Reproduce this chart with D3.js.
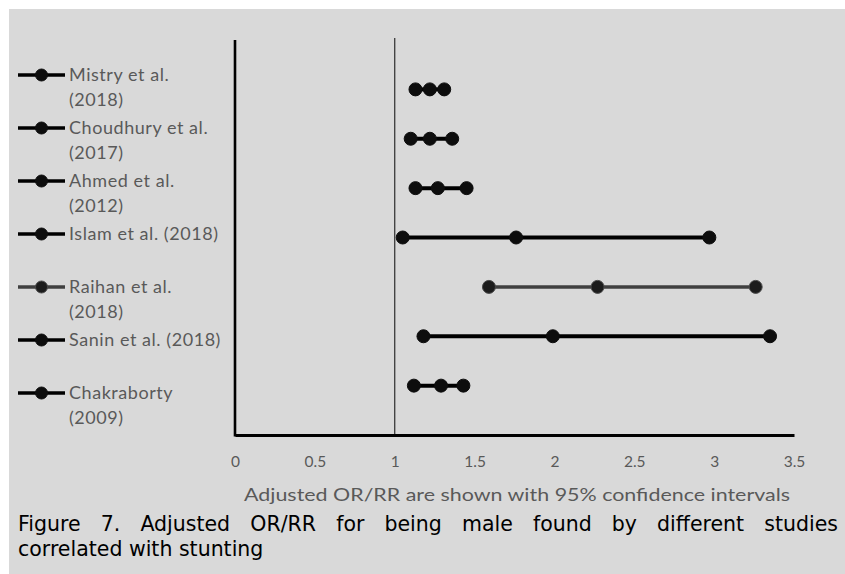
<!DOCTYPE html>
<html>
<head>
<meta charset="utf-8">
<script src="https://cdn.jsdelivr.net/npm/d3@7"></script>
<style>
  body { margin: 0; background: #ffffff; }
  svg { display: block; }
</style>
</head>
<body>
<div id="chart"></div>
<script>
// studies, top to bottom (label lines as shown in the legend)
var studies = [
    ["Mistry et al.", "(2018)"],
    ["Choudhury et al.", "(2017)"],
    ["Ahmed et al.", "(2012)"],
    ["Islam et al. (2018)"],
    ["Raihan et al.", "(2018)"],
    ["Sanin et al. (2018)"],
    ["Chakraborty", "(2009)"]
];
// row position of each study on the hidden 0-8 y scale
var rowValues = [7, 6, 5, 4, 3, 2, 1];
// adjusted OR/RR with 95% CI
var lowerCI = [1.13, 1.10, 1.13, 1.05, 1.59, 1.18, 1.12];
var estimate = [1.22, 1.22, 1.27, 1.76, 2.27, 1.99, 1.29];
var upperCI = [1.31, 1.36, 1.45, 2.97, 3.26, 3.35, 1.43];
var seriesColors = ["#000000", "#000000", "#000000", "#000000", "#404040", "#000000", "#000000"];

var xTicks = [0, 0.5, 1, 1.5, 2, 2.5, 3, 3.5];
var referenceValue = 1;
var axisTitle = "Adjusted OR/RR are shown with 95% confidence intervals";
var captionLines = [
    "Figure 7. Adjusted OR/RR for being male found by different studies",
    "correlated with stunting"
];

var width = 845, height = 574;
var plot = { left: 235, right: 794, top: 40, bottom: 435 };

var svg = d3.select("#chart").append("svg")
    .attr("width", width)
    .attr("height", height);

// grey panel
svg.append("rect")
    .attr("x", 9).attr("y", 9)
    .attr("width", width - 9).attr("height", height - 9)
    .attr("fill", "#d9d9d9");

var x = d3.scaleLinear().domain([0, 3.5]).range([plot.left, plot.right]);
var y = d3.scaleLinear().domain([0, 8]).range([plot.bottom, plot.top]);

// reference line at OR = 1
svg.append("line")
    .attr("x1", x(referenceValue)).attr("x2", x(referenceValue))
    .attr("y1", plot.top - 2).attr("y2", plot.bottom)
    .attr("stroke", "#3a3a3a")
    .attr("stroke-width", 1.3);

// y axis line (no ticks)
svg.append("line")
    .attr("x1", plot.left).attr("x2", plot.left)
    .attr("y1", plot.top).attr("y2", plot.bottom + 1.5)
    .attr("stroke", "#000")
    .attr("stroke-width", 2.6);

// x axis
var xAxis = svg.append("g")
    .attr("transform", "translate(0," + plot.bottom + ")")
    .call(d3.axisBottom(x)
        .tickValues(xTicks)
        .tickFormat(d3.format(""))
        .tickSize(0)
        .tickPadding(21));
xAxis.select(".domain")
    .attr("stroke", "#000")
    .attr("stroke-width", 3);
xAxis.selectAll("text")
    .attr("fill", "#595959")
    .style("font-family", "Lato, 'Open Sans', sans-serif")
    .style("font-size", "15.5px");

// axis title
svg.append("text")
    .attr("x", 517).attr("y", 501)
    .attr("text-anchor", "middle")
    .attr("textLength", 546)
    .attr("lengthAdjust", "spacingAndGlyphs")
    .attr("fill", "#595959")
    .style("font-family", "Lato, 'Open Sans', sans-serif")
    .style("font-size", "18px")
    .text(axisTitle);

// interval lines
var rows = studies.map(function (s, i) {
    return { i: i, y: rowValues[i], lo: lowerCI[i], est: estimate[i], hi: upperCI[i], color: seriesColors[i] };
});

svg.selectAll(".ci")
    .data(rows)
    .enter().append("line")
    .attr("class", "ci")
    .attr("x1", function (d) { return x(d.lo); })
    .attr("x2", function (d) { return x(d.hi); })
    .attr("y1", function (d) { return y(d.y); })
    .attr("y2", function (d) { return y(d.y); })
    .attr("stroke", function (d) { return d.color; })
    .attr("stroke-width", function (d) { return d.color === "#000000" ? 4 : 3.5; });

// points
rows.forEach(function (d) {
    svg.selectAll(".pt" + d.i)
        .data([d.lo, d.est, d.hi])
        .enter().append("circle")
        .attr("cx", function (v) { return x(v); })
        .attr("cy", y(d.y))
        .attr("r", 6.5)
        .attr("fill", d.color === "#000000" ? "#0d0d0d" : "#1c1c1c")
        .attr("stroke", d.color === "#000000" ? "#0d0d0d" : "#4a4a4a")
        .attr("stroke-width", 1);
});

// legend
var legend = svg.selectAll(".legend")
    .data(rows)
    .enter().append("g")
    .attr("class", "legend")
    .attr("transform", function (d, i) { return "translate(0," + (75 + i * 53) + ")"; });

legend.append("line")
    .attr("x1", 18).attr("x2", 65)
    .attr("y1", 0).attr("y2", 0)
    .attr("stroke", function (d) { return d.color; })
    .attr("stroke-width", 3.5);

legend.append("circle")
    .attr("cx", 41.5).attr("cy", 0).attr("r", 6)
    .attr("fill", function (d) { return d.color === "#000000" ? "#0d0d0d" : "#1c1c1c"; })
    .attr("stroke", function (d) { return d.color === "#000000" ? "#0d0d0d" : "#4a4a4a"; });

legend.each(function (d, i) {
    var g = d3.select(this);
    studies[i].forEach(function (line, k) {
        g.append("text")
            .attr("x", 69)
            .attr("y", 6 + k * 25)
            .attr("fill", "#595959")
            .style("font-family", "Lato, 'Open Sans', sans-serif")
            .style("font-size", "18px")
            .style("letter-spacing", "0.55px")
            .text(line);
    });
});

// figure caption, first line justified by widening word gaps
var caption = svg.selectAll(".caption")
    .data(captionLines)
    .enter().append("text")
    .attr("class", "caption")
    .attr("x", 18)
    .attr("y", function (d, i) { return 531 + i * 25; })
    .attr("fill", "#000")
    .style("font-family", "'DejaVu Sans', Verdana, sans-serif")
    .style("font-size", "20.5px")
    .text(function (d) { return d; });

caption.filter(function (d, i) { return i === 0; })
    .each(function (d) {
        var natural = this.getComputedTextLength();
        var gaps = d.split(" ").length - 1;
        var extra = Math.max(0, (820 - natural) / gaps);
        d3.select(this).style("word-spacing", extra + "px");
    });
</script>
</body>
</html>
